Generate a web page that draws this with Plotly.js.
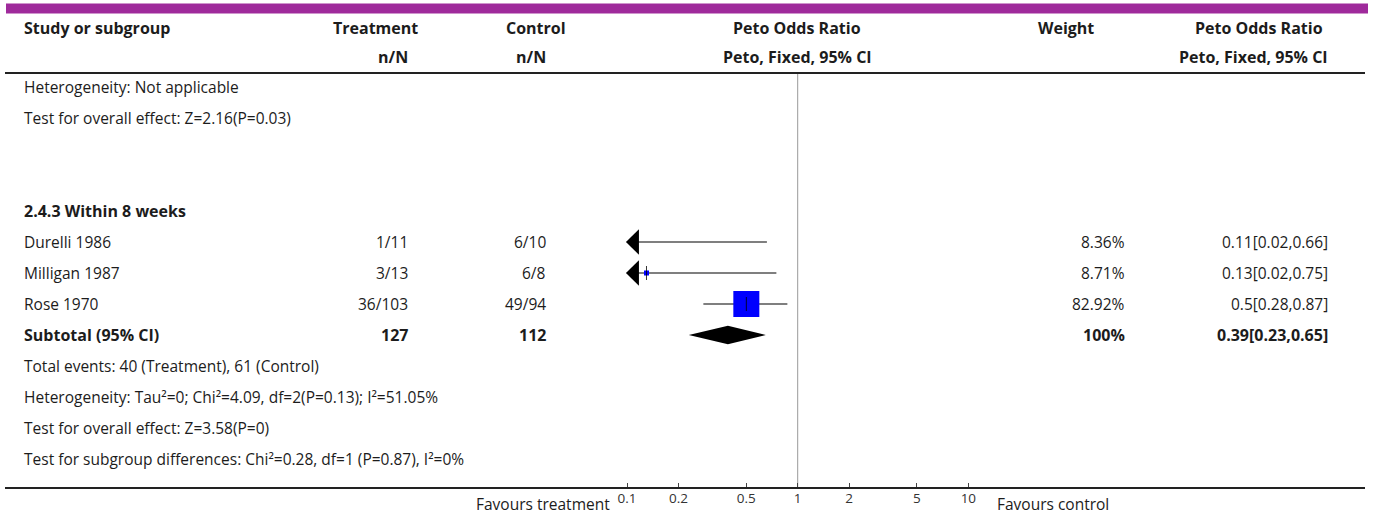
<!DOCTYPE html>
<html>
<head>
<meta charset="utf-8">
<script src="https://cdn.plot.ly/plotly-3.0.1.min.js"></script>
<style>
  html, body { margin: 0; padding: 0; background: #fff; }
  #chart { width: 1375px; height: 520px; }
</style>
</head>
<body>
<div id="chart"></div>
<script>
// ---- data ----
const studies   = ['Durelli 1986', 'Milligan 1987', 'Rose 1970'];
const treatNN   = ['1/11', '3/13', '36/103'];
const ctrlNN    = ['6/10', '6/8', '49/94'];
const oddsRatio = [0.11, 0.13, 0.5];
const ciLower   = [0.02, 0.02, 0.28];
const ciUpper   = [0.66, 0.75, 0.87];
const weights   = [8.36, 8.71, 82.92];

const subtotalLabel  = 'Subtotal (95% CI)';
const subtotalTreat  = '127';
const subtotalCtrl   = '112';
const subtotalOR     = 0.39;
const subtotalLower  = 0.23;
const subtotalUpper  = 0.65;
const subtotalWeight = 100;

const groupTitle = '2.4.3 Within 8 weeks';
const notesBefore = ['Heterogeneity: Not applicable', 'Test for overall effect: Z=2.16(P=0.03)'];
const notesAfter = [
  'Total events: 40 (Treatment), 61 (Control)',
  'Heterogeneity: Tau\u00b2=0; Chi\u00b2=4.09, df=2(P=0.13); I\u00b2=51.05%',
  'Test for overall effect: Z=3.58(P=0)',
  'Test for subgroup differences: Chi\u00b2=0.28, df=1 (P=0.87), I\u00b2=0%'
];
const tickValues = [0.1, 0.2, 0.5, 1, 2, 5, 10];
const tickLabels = ['0.1', '0.2', '0.5', '1', '2', '5', '10'];
const favoursLeft = 'Favours treatment';
const favoursRight = 'Favours control';

// ---- layout geometry (pixels) ----
const W = 1375, H = 520;
const ROW0 = 87, ROW_H = 31;          // first body row centre, row pitch
const AXIS_Y = 488;                   // bottom rule / x axis
const HEAD_LINE_Y = 73;
const PX_DECADE = 170.65;             // width of one log decade
const PX_AT_ONE = 797.7;              // position of OR = 1
const X_DOM = [560, 990];
const AX_MIN = 0.1, AX_MAX = 10;      // drawn scale limits (arrows beyond)

const px = x => x / W;
const py = y => 1 - y / H;
const rowOfPx = y => (y - ROW0) / ROW_H;

const FONT = '"Open Sans", Lato, sans-serif';
const FS = 15.5;     // regular text
const FS_B = 16;     // bold text
const TXT = '#1c1c1c';

// row indices
const rowStudy = studies.map((_, i) => 5 + i);
const rowSub = 5 + studies.length;

// ---- traces ----
const traces = [];

// OR = 1 reference line
traces.push({
  x: [1, 1], y: [rowOfPx(HEAD_LINE_Y), rowOfPx(AXIS_Y)],
  mode: 'lines', line: { color: '#999', width: 1 }, hoverinfo: 'skip'
});

// confidence interval lines, clipped to the scale
studies.forEach((s, i) => {
  traces.push({
    x: [Math.max(ciLower[i], AX_MIN), Math.min(ciUpper[i], AX_MAX)],
    y: [rowStudy[i], rowStudy[i]],
    mode: 'lines', line: { color: '#000', width: 1.2 }, hoverinfo: 'skip'
  });
});

// weight squares
const maxW = Math.max(...weights);
traces.push({
  x: oddsRatio, y: rowStudy, mode: 'markers',
  marker: {
    symbol: 'square', color: '#0000ff', opacity: 1,
    size: weights.map(w => Math.max(5, 26 * w / maxW)),
    line: { width: 0 }
  },
  hoverinfo: 'skip'
});
// point-estimate tick
traces.push({
  x: oddsRatio, y: rowStudy, mode: 'markers',
  marker: { symbol: 'line-ns-open', size: 10, color: '#000', line: { color: '#000', width: 0.8 } },
  hoverinfo: 'skip'
});

// arrows where the interval runs past the scale
const ARROW_W = 13, ARROW_HALF = 0.41;
const kArrow = Math.pow(10, ARROW_W / PX_DECADE);
const tipLo = AX_MIN * 0.985, tipHi = AX_MAX / 0.985;
studies.forEach((s, i) => {
  const r = rowStudy[i];
  if (ciLower[i] < AX_MIN) {
    traces.push({
      x: [tipLo, tipLo * kArrow, tipLo * kArrow, tipLo],
      y: [r, r - ARROW_HALF, r + ARROW_HALF, r],
      mode: 'lines', fill: 'toself', fillcolor: '#000',
      line: { color: '#000', width: 0 }, hoverinfo: 'skip'
    });
  }
  if (ciUpper[i] > AX_MAX) {
    traces.push({
      x: [tipHi, tipHi / kArrow, tipHi / kArrow, tipHi],
      y: [r, r - ARROW_HALF, r + ARROW_HALF, r],
      mode: 'lines', fill: 'toself', fillcolor: '#000',
      line: { color: '#000', width: 0 }, hoverinfo: 'skip'
    });
  }
});

// pooled diamond
const DIA_HALF = 0.3;
traces.push({
  x: [subtotalLower, subtotalOR, subtotalUpper, subtotalOR, subtotalLower],
  y: [rowSub, rowSub - DIA_HALF, rowSub, rowSub + DIA_HALF, rowSub],
  mode: 'lines', fill: 'toself', fillcolor: '#000',
  line: { color: '#000', width: 0 }, hoverinfo: 'skip'
});

// ---- text ----
const ann = [];
function txt(text, xpx, row, anchor, bold) {
  ann.push({
    text: bold ? '<b>' + text + '</b>' : text,
    xref: 'paper', yref: 'y', x: px(xpx), y: row,
    xanchor: anchor, yanchor: 'middle', showarrow: false,
    font: { family: FONT, size: bold ? FS_B : FS, color: TXT }
  });
}
function head(text, xpx, ypx, anchor) {
  ann.push({
    text: '<b>' + text + '</b>', xref: 'paper', yref: 'paper',
    x: px(xpx), y: py(ypx), xanchor: anchor, yanchor: 'middle', showarrow: false,
    font: { family: FONT, size: FS_B, color: TXT }
  });
}

// header
head('Study or subgroup', 22, 28, 'left');
head('Treatment', 375, 28, 'center');
head('Control', 536, 28, 'center');
head('Peto Odds Ratio', 797, 28, 'center');
head('Weight', 1066, 28, 'center');
head('Peto Odds Ratio', 1259, 28, 'center');
head('n/N', 410, 57, 'right');
head('n/N', 548, 57, 'right');
head('Peto, Fixed, 95% CI', 797, 57, 'center');
head('Peto, Fixed, 95% CI', 1330, 57, 'right');

const COL_T = 410, COL_C = 548, COL_W = 1127, COL_CI = 1330;

notesBefore.forEach((t, i) => txt(t, 22, i, 'left'));
txt(groupTitle, 22, 4, 'left', true);
studies.forEach((s, i) => {
  const r = rowStudy[i];
  txt(s, 22, r, 'left');
  txt(treatNN[i], COL_T, r, 'right');
  txt(ctrlNN[i], COL_C, r, 'right');
  txt(weights[i].toFixed(2) + '%', COL_W, r, 'right');
  txt(oddsRatio[i] + '[' + ciLower[i] + ',' + ciUpper[i] + ']', COL_CI, r, 'right');
});
txt(subtotalLabel, 22, rowSub, 'left', true);
txt(subtotalTreat, COL_T, rowSub, 'right', true);
txt(subtotalCtrl, COL_C, rowSub, 'right', true);
txt(subtotalWeight + '%', COL_W, rowSub, 'right', true);
txt(subtotalOR + '[' + subtotalLower + ',' + subtotalUpper + ']', COL_CI, rowSub, 'right', true);
notesAfter.forEach((t, i) => txt(t, 22, rowSub + 1 + i, 'left'));

// favours labels
ann.push({
  text: favoursLeft, xref: 'paper', yref: 'paper', x: px(612), y: py(504),
  xanchor: 'right', yanchor: 'middle', showarrow: false,
  font: { family: FONT, size: FS, color: TXT }
});
ann.push({
  text: favoursRight, xref: 'paper', yref: 'paper', x: px(995), y: py(504),
  xanchor: 'left', yanchor: 'middle', showarrow: false,
  font: { family: FONT, size: FS, color: TXT }
});

// ---- shapes ----
const shapes = [
  { type: 'rect', xref: 'paper', yref: 'paper', x0: px(6), x1: px(1368), y0: py(3.5), y1: py(13.5),
    fillcolor: '#9f2a9b', line: { width: 0 } },
  { type: 'line', xref: 'paper', yref: 'paper', x0: px(5), x1: px(1365), y0: py(HEAD_LINE_Y), y1: py(HEAD_LINE_Y),
    line: { color: '#222', width: 1.8 } },
  { type: 'line', xref: 'paper', yref: 'paper', x0: px(5), x1: px(1365), y0: py(AXIS_Y), y1: py(AXIS_Y),
    line: { color: '#222', width: 1.8 } }
];

// log range so that 0.1..10 fall on the measured positions
const logLo = -(PX_AT_ONE - X_DOM[0]) / PX_DECADE;
const logHi = (X_DOM[1] - PX_AT_ONE) / PX_DECADE;

const layout = {
  width: W, height: H,
  margin: { l: 0, r: 0, t: 0, b: 0, pad: 0 },
  paper_bgcolor: '#fff', plot_bgcolor: 'rgba(0,0,0,0)',
  showlegend: false,
  font: { family: FONT, size: FS, color: TXT },
  xaxis: {
    type: 'log', domain: [px(X_DOM[0]), px(X_DOM[1])], range: [logLo, logHi],
    tickvals: tickValues, ticktext: tickLabels,
    ticks: 'inside', ticklen: 5, tickwidth: 1, tickcolor: '#444',
    tickfont: { family: '"Open Sans", sans-serif', size: 13.5, color: '#333' },
    showgrid: false, zeroline: false, showline: false, fixedrange: true
  },
  yaxis: {
    domain: [1 - AXIS_Y / H, 1],
    range: [rowOfPx(AXIS_Y), rowOfPx(0)],
    visible: false, showgrid: false, zeroline: false, fixedrange: true
  },
  shapes: shapes,
  annotations: ann
};

Plotly.newPlot('chart', traces, layout, { staticPlot: true, displayModeBar: false });
</script>
</body>
</html>
